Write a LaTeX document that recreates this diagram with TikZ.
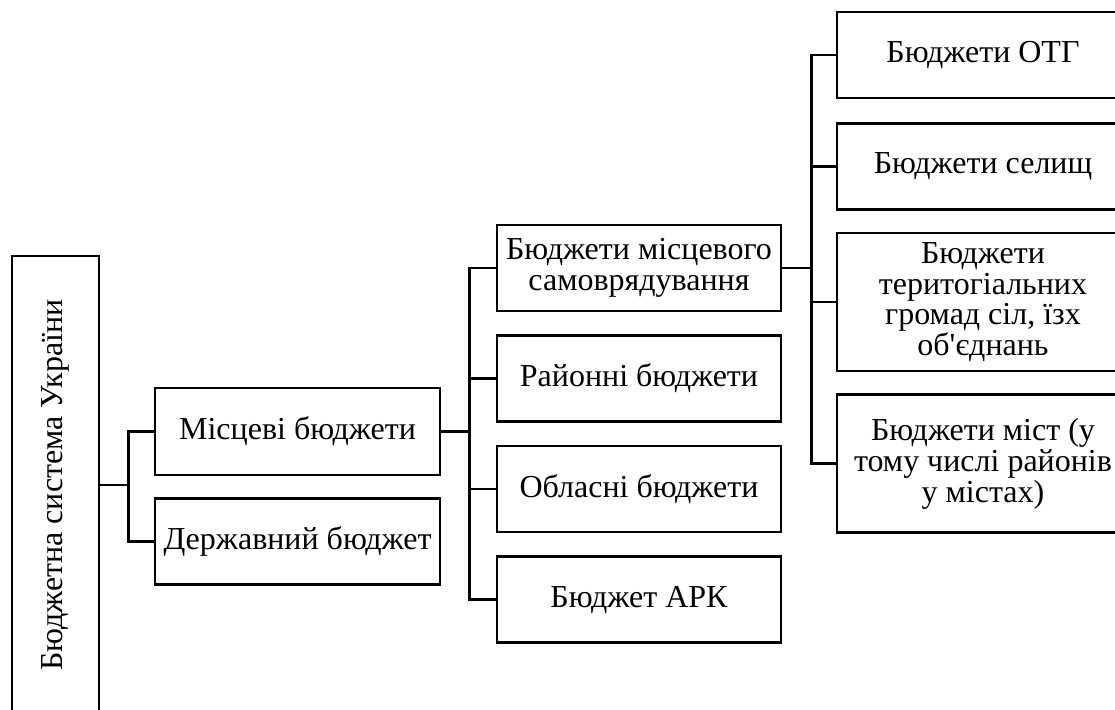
\documentclass[tikz,border=0pt]{standalone}
\usepackage{fontspec}
\setmainfont{Liberation Serif}
\usetikzlibrary{positioning}
\tikzset{
  box/.style={rectangle,draw,line width=1.3pt,align=center,inner sep=2pt,
    minimum width=142pt,minimum height=43pt,
    font=\fontsize{16}{15.3}\selectfont},
  widebox/.style={box,minimum width=142.5pt},
  sidebox/.style={box,minimum width=146pt},
  tallbox/.style={sidebox,minimum height=69pt},
  rootbox/.style={box,minimum width=43.5pt,minimum height=229pt},
  line/.style={line width=1.3pt}
}

\begin{document}
\begin{tikzpicture}[x=0.5pt,y=-0.5pt,node distance=11pt]
\useasboundingbox (0,0) rectangle (1115,710);
% budget system
\node[rootbox] (sys) at (55.5,485) {\rotatebox{90}{Бюджетна система України}};
% first level
\node[widebox, minimum height=43.5pt] (misc) at (297.5,431.5) {Місцеві бюджети};
\node[widebox, below=10.5pt of misc] (derzh) {Державний бюджет};
% local budgets
\node[box] (samovr) at (639,268) {Бюджети місцевого\\самоврядування};
\node[box, below=of samovr] (rajon) {Районні бюджети};
\node[box, below=of rajon] (oblast) {Обласні бюджети};
\node[box, below=of oblast] (ark) {Бюджет АРК};
% self-government budgets
\node[sidebox] (otg) at (983,55) {Бюджети ОТГ};
\node[sidebox, below=11.5pt of otg] (selyshch) {Бюджети селищ};
\node[tallbox, below=10.5pt of selyshch] (hromad) {Бюджети\\теритогіальних\\громад сіл, їзх\\об\textquotesingle єднань};
\node[tallbox, below=10.5pt of hromad] (mista) {Бюджети міст (у\\тому числі районів\\у містах)};
\draw[line] (sys.east) -- ++(28,0) |- (misc.west);
\draw[line] (sys.east) -- ++(28,0) |- (derzh.west);
\draw[line] (misc.east) -- ++(28,0) |- (samovr.west);
\draw[line] (misc.east) -- ++(28,0) |- (rajon.west);
\draw[line] (misc.east) -- ++(28,0) |- (oblast.west);
\draw[line] (misc.east) -- ++(28,0) |- (ark.west);
\draw[line] (samovr.east) -- ++(29,0) |- (otg.west);
\draw[line] (samovr.east) -- ++(29,0) |- (selyshch.west);
\draw[line] (samovr.east) -- ++(29,0) |- (hromad.west);
\draw[line] (samovr.east) -- ++(29,0) |- (mista.west);
\end{tikzpicture}
\end{document}
